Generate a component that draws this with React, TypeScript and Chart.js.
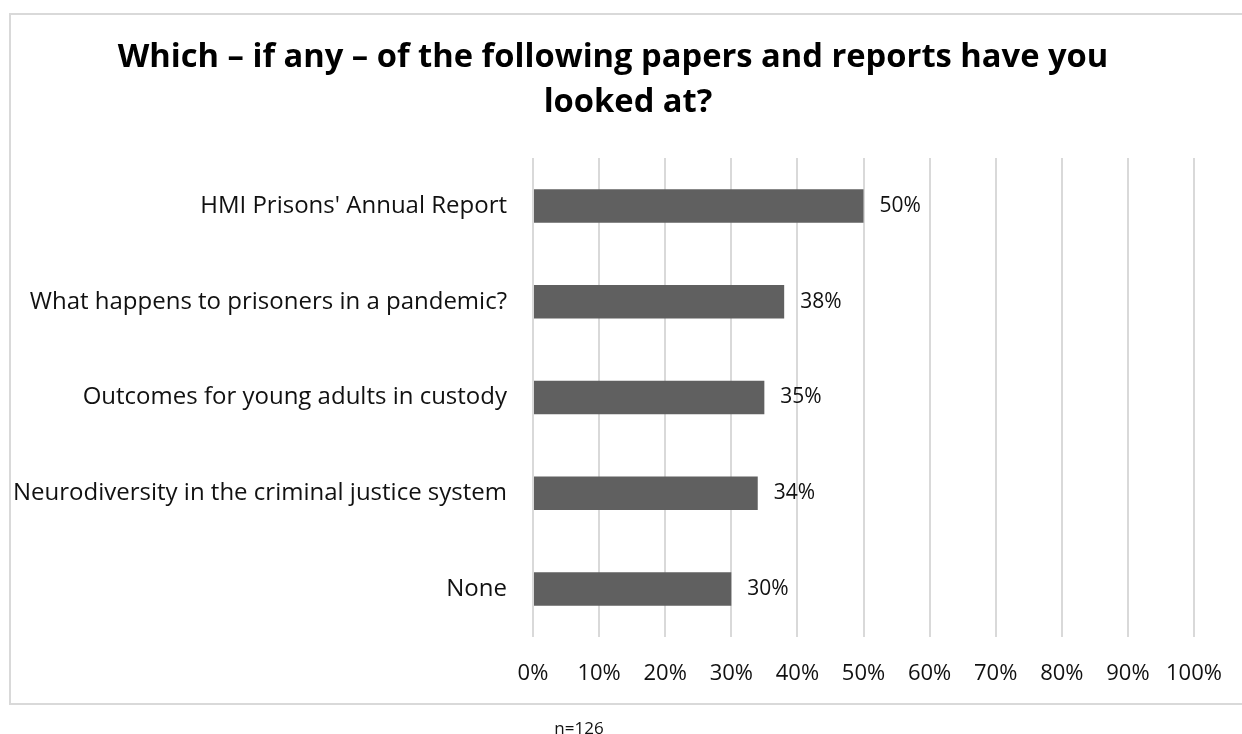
import React, { useEffect, useRef } from "react";
import { Chart, registerables } from "chart.js";

Chart.register(...registerables);

const categories = [
  "HMI Prisons' Annual Report",
  "What happens to prisoners in a pandemic?",
  "Outcomes for young adults in custody",
  "Neurodiversity in the criminal justice system",
  "None",
];
const values = [50, 38, 35, 34, 30];
const titleLines = ["Which \u2013 if any \u2013 of the following papers and reports have you", "looked at?"];
const footnote = "n=126";

const FONT = "'Open Sans', sans-serif";
const W = 1242;
const H = 734;
const TEXT = "#111";

export default function App() {
  const ref = useRef<HTMLCanvasElement | null>(null);
  useEffect(() => {
    const canvas = ref.current;
    if (!canvas) return;
    const frame = {
      id: "frame",
      beforeDraw(chart: any) {
        const ctx = chart.ctx;
        ctx.save();
        ctx.strokeStyle = "#d9d9d9";
        ctx.lineWidth = 2;
        ctx.strokeRect(10, 14, W + 20, 690);
        ctx.restore();
      },
      afterDraw(chart: any) {
        const ctx = chart.ctx;
        ctx.save();
        ctx.fillStyle = "#000";
        ctx.font = `bold 32.7px ${FONT}`;
        ctx.textAlign = "center";
        ctx.textBaseline = "alphabetic";
        ctx.fillText(titleLines[0], 613, 67);
        ctx.fillText(titleLines[1], 628, 112);
        ctx.fillStyle = TEXT;
        ctx.font = `17px ${FONT}`;
        ctx.fillText(footnote, 579, 734);
        ctx.restore();
      },
    };
    const dataLabels = {
      id: "dataLabels",
      afterDatasetsDraw(chart: any) {
        const ctx = chart.ctx;
        const meta = chart.getDatasetMeta(0);
        ctx.save();
        ctx.fillStyle = TEXT;
        ctx.font = `21px ${FONT}`;
        ctx.textAlign = "left";
        ctx.textBaseline = "middle";
        meta.data.forEach((el: any, i: number) => {
          ctx.fillText(values[i] + "%", el.x + 16, el.y);
        });
        ctx.restore();
      },
    };
    const chart = new Chart(canvas, {
      type: "bar",
      data: {
        labels: categories,
        datasets: [
          {
            data: values,
            backgroundColor: "#606060",
            borderWidth: 0,
            categoryPercentage: 1,
            barPercentage: 0.35,
          },
        ],
      },
      options: {
        indexAxis: "y",
        responsive: false,
        animation: false,
        layout: { padding: { left: 10, right: 48, top: 14, bottom: 30 } },
        plugins: {
          legend: { display: false },
          tooltip: { enabled: false },
          title: {
            display: true,
            text: titleLines,
            color: "rgba(0,0,0,0)",
            font: { family: FONT, size: 32.5, weight: "bold", lineHeight: 1.385 },
            padding: { top: 24, bottom: 30 },
          },
        },
        scales: {
          x: {
            min: 0,
            max: 100,
            ticks: {
              stepSize: 10,
              callback: (v: any) => v + "%",
              color: TEXT,
              font: { family: FONT, size: 22 },
              padding: 24,
              maxRotation: 0,
              autoSkip: false,
            },
            grid: { color: "#d9d9d9", lineWidth: 2, drawTicks: false },
            border: { display: false },
            afterFit: (s: any) => {
              s.height = H - 30 - 637;
              s.paddingRight = 0;
              s.paddingLeft = 0;
            },
          },
          y: {
            ticks: {
              color: TEXT,
              font: { family: FONT, size: 24 },
              padding: 26,
            },
            grid: { display: false, drawTicks: false },
            border: { display: false },
            afterFit: (s: any) => {
              s.width = 523;
            },
          },
        },
      },
      plugins: [frame, dataLabels],
    });
    return () => chart.destroy();
  }, []);
  return (
    <div style={{ position: "absolute", left: 0, top: 0, width: W, height: H, background: "#fff" }}>
      <canvas ref={ref} width={W} height={H} style={{ display: "block", width: W, height: H }} />
    </div>
  );
}
